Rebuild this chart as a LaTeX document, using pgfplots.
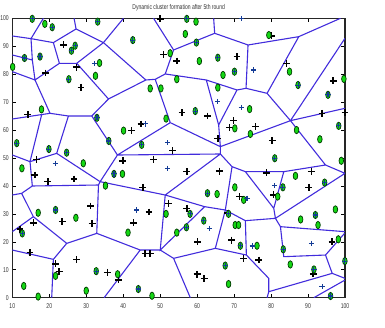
\documentclass[border=0pt]{standalone}
\usepackage{pgfplots}
\pgfplotsset{compat=1.18}
\usepackage{fontspec}
\setmainfont{Liberation Sans}
\newfontfamily\narrow[FakeStretch=0.72]{Liberation Sans}
\definecolor{vor}{RGB}{66,44,220}
\definecolor{gfill}{RGB}{20,215,20}
\definecolor{gdraw}{RGB}{0,60,0}
\definecolor{bplus}{RGB}{20,60,150}
\pgfdeclareplotmark{vell}{\pgfpathellipse{\pgfpointorigin}{\pgfqpoint{2.3pt}{0pt}}{\pgfqpoint{0pt}{3.7pt}}\pgfusepathqfillstroke}
\begin{document}
\begin{tikzpicture}
\useasboundingbox (-12.3pt,-30.3pt) rectangle (372.7pt,297.7pt);
\begin{axis}[
  at={(0,0)}, anchor=south west,
  scale only axis, width=332.7pt, height=279.4pt,
  xmin=10, xmax=100, ymin=0, ymax=100,
  xtick={10,20,...,100}, ytick={0,10,...,100},
  tick align=inside, major tick length=3.5pt,
  tick style={black, line width=0.6pt},
  axis line style={black!85, line width=1.3pt},
  /pgf/number format/assume math mode=true,
  ticklabel style={font=\narrow\fontsize{7}{8}\selectfont, text=black!80},
  xticklabel style={yshift=-2pt},
  title={Dynamic cluster formation after 5th round},
  every axis title/.style={font=\narrow\fontsize{7}{8}\selectfont, text=black!80, at={(0.5,1)}, anchor=center, yshift=11pt},
  clip mode=individual,
]
\addplot[vor, line width=1.1pt, unbounded coords=jump] coordinates {
(10,93.67) (15.06,92.72) (nan,nan)
(18.40,100) (15.06,92.72) (21.11,91.29) (27.25,96.18) (26.71,100) (nan,nan)
(27.25,96.18) (34.66,91.29) (40.08,100) (nan,nan)
(34.66,91.29) (46.13,77.92) (nan,nan)
(21.11,91.29) (22.74,83.89) (27.43,83.89) (34.66,91.29) (nan,nan)
(27.43,83.89) (36.02,71.12) (46.13,77.92) (nan,nan)
(36.02,71.12) (31.50,65.03) (nan,nan)
(15.06,92.72) (15.42,85.08) (16.14,77.92) (20.21,65.99) (10,63.96) (nan,nan)
(10,86.87) (15.42,85.08) (nan,nan)
(10,80.91) (16.14,77.92) (22.74,83.89) (nan,nan)
(20.21,65.99) (25.18,65.03) (31.50,65.03) (38.45,51.07) (66.28,51.43) (nan,nan)
(25.18,65.03) (22.01,51.67) (33.76,41.53) (38.45,51.07) (nan,nan)
(17.95,65.51) (14.79,48.69) (22.01,51.67) (nan,nan)
(10,51.07) (14.79,48.69) (15.42,39.98) (33.31,40.33) (33.76,41.53) (nan,nan)
(15.42,39.98) (12.53,37.35) (10,36.75) (nan,nan)
(12.53,37.35) (15.69,29.0) (10,23.63) (nan,nan)
(15.69,29.0) (24.72,19.45) (32.85,23.03) (33.31,40.33) (nan,nan)
(32.85,23.03) (44.6,17.06) (50.02,17.06) (nan,nan)
(44.6,17.06) (34.84,0) (nan,nan)
(24.72,19.45) (21.11,13.72) (10,17.06) (nan,nan)
(21.11,13.72) (20.66,0) (nan,nan)
(33.76,41.53) (51.37,36.75) (66.28,51.43) (nan,nan)
(51.37,36.75) (50.02,17.06) (62.03,32.58) (51.37,36.75) (nan,nan)
(62.03,32.58) (67.63,31.38) (69.44,46.9) (66.28,51.43) (nan,nan)
(67.63,31.38) (64.92,17.66) (nan,nan)
(67.63,31.38) (73.05,27.57) (81.18,28.4) (80.73,31.98) (73.05,45.11) (nan,nan)
(80.73,31.98) (83.44,45.11) (nan,nan)
(81.18,28.4) (82.54,25.42) (100,23.63) (nan,nan)
(82.54,25.42) (83.44,14.68) (94.73,15.27) (99.88,23.03) (nan,nan)
(94.73,15.27) (96.54,8.71) (100,6.92) (nan,nan)
(96.54,8.71) (79.38,2.15) (78.93,0) (nan,nan)
(73.32,15.27) (79.38,6.92) (79.38,2.15) (nan,nan)
(73.05,27.57) (73.32,15.27) (64.92,17.66) (53.63,14.08) (50.02,17.06) (nan,nan)
(53.63,14.08) (58.15,0) (nan,nan)
(100,44.51) (94.73,47.49) (83.44,45.11) (73.05,45.11) (69.44,46.9) (nan,nan)
(100,44.51) (81.18,28.4) (nan,nan)
(100,6.32) (91.57,0) (nan,nan)
(64.47,100) (64.74,94.63) (53.63,88.66) (48.21,100) (nan,nan)
(53.63,88.66) (51.37,80.07) (48.66,78.16) (46.13,77.92) (nan,nan)
(48.66,78.16) (52.73,62.65) (38.45,51.07) (nan,nan)
(51.37,80.07) (62.48,77.92) (70.79,74.34) (65.82,61.81) (62.48,77.92) (nan,nan)
(70.79,74.34) (73.23,74.94) (73.77,90.45) (64.74,94.63) (nan,nan)
(73.77,90.45) (87.5,93.43) (98.79,100) (nan,nan)
(73.23,74.94) (78.92,73.15) (87.5,93.43) (nan,nan)
(78.92,73.15) (85.25,63.36) (100,92.84) (nan,nan)
(85.25,63.36) (100,67.78) (nan,nan)
(85.25,63.36) (94.73,47.49) (nan,nan)
(85.25,63.36) (66.28,54.06) (52.73,62.65) (nan,nan)
(65.82,61.81) (66.28,54.06) (66.28,51.43) (nan,nan)
};
\addplot[only marks, mark=+, mark size=3.4pt, mark options={black, line width=1.5pt}] coordinates {
(23.9,90.5) (19.0,80.4) (27.3,82.5) (28.6,75.3) (50.0,99.8) (50.9,87.1) (54.5,84.7) (70.8,86.3) (80.1,93.7) (84.2,83.9) (96.8,77.6) (14.2,65.6) (55.9,66.2) (62.8,65.0) (42.2,59.8) (44.8,62.2) (69.9,63.4) (68.8,60.9) (75.8,61.2) (93.8,66.0) (100.0,66.2) (53.4,52.6) (65.6,57.0) (80.3,56.2) (16.6,49.5) (16.1,43.9) (19.6,41.5) (26.7,42.5) (39.9,49.0) (48.2,49.5) (57.2,45.1) (66.0,45.3) (78.7,44.7) (90.9,45.1) (90.2,39.5) (45.3,39.5) (71.5,36.2) (80.7,36.8) (52.3,33.8) (57.2,32.0) (47.0,30.7) (42.8,26.8) (31.2,32.8) (31.6,26.6) (23.5,27.2) (12.1,24.5) (15.7,26.8) (14.8,16.1) (21.7,12.1) (22.7,9.3) (27.4,13.7) (35.7,9.1) (38.7,6.3) (45.9,15.9) (47.3,15.9) (60.1,20.0) (69.3,20.6) (72.6,14.1) (76.7,13.5) (96.5,20.0) (91.4,8.5) (60.0,8.4) (61.9,6.9) (68.3,30.3)
};
\addplot[only marks, mark=vell, mark options={fill=gfill, draw=gdraw, line width=0.7pt}] coordinates {
(18.8,98.0) (10.1,82.6) (33.6,84.0) (32.5,79.4) (17.9,67.4) (59.7,98.8) (56.8,94.4) (52.7,87.5) (47.3,74.9) (50.2,74.9) (54.5,78.2) (60.6,84.7) (67.0,79.7) (65.6,75.2) (79.4,94.0) (85.0,80.9) (99.7,78.3) (51.6,64.1) (40.1,59.8) (74.2,67.5) (70.2,60.6) (74.4,58.6) (86.9,60.0) (93.2,56.7) (99.0,49.0) (29.2,48.1) (12.6,46.3) (39.8,44.3) (35.2,40.1) (86.6,43.6) (65.4,37.1) (70.2,39.5) (72.6,35.0) (81.8,36.2) (97.4,31.6) (17.0,30.4) (27.2,28.6) (51.6,30.0) (41.3,23.3) (54.5,23.3) (70.3,26.0) (71.2,26.0) (88.0,28.0) (92.7,26.0) (98.2,20.9) (76.2,18.6) (85.2,11.9) (68.5,4.9) (21.7,7.8) (38.5,8.4) (13.1,4.2) (17.0,0.4) (30.0,2.5) (47.8,0.7)
(15.4,99.8) (20.8,96.8) (33.1,98.8) (27.0,90.2) (26.0,88.4) (13.3,85.8) (17.5,86.3) (25.3,78.2) (42.6,92.2) (57.2,99.8) (59.8,91.3) (65.6,85.9) (70.1,80.9) (87.3,76.1) (95.4,72.6) (59.5,66.8) (32.9,64.4) (36.1,56.1) (11.2,55.3) (19.9,53.2) (24.7,51.9) (37.5,44.3) (98.3,61.5) (81.0,49.9) (94.5,41.2) (83.2,39.5) (62.8,37.4) (21.7,31.4) (12.7,23.0) (58.1,30.0) (57.1,25.2) (61.8,27.6) (68.5,30.0) (71.7,18.6) (92.0,29.6) (83.3,17.3) (99.97,13.1) (67.6,11.5) (91.6,10.1) (96.1,0.6) (44.1,3.1) (32.7,9.5) (45.0,54.7)
};
\addplot[only marks, mark=+, mark size=2.6pt, mark options={bplus, line width=1.1pt}] coordinates {
(15.4,99.8) (20.8,96.8) (33.1,98.8) (27.0,90.2) (26.0,88.4) (13.3,85.8) (17.5,86.3) (25.3,78.2) (42.6,92.2) (57.2,99.8) (59.8,91.3) (65.6,85.9) (70.1,80.9) (87.3,76.1) (95.4,72.6) (59.5,66.8) (32.9,64.4) (36.1,56.1) (11.2,55.3) (19.9,53.2) (24.7,51.9) (37.5,44.3) (98.3,61.5) (81.0,49.9) (94.5,41.2) (83.2,39.5) (62.8,37.4) (21.7,31.4) (12.7,23.0) (58.1,30.0) (57.1,25.2) (61.8,27.6) (68.5,30.0) (71.7,18.6) (92.0,29.6) (83.3,17.3) (99.97,13.1) (67.6,11.5) (91.6,10.1) (96.1,0.6) (44.1,3.1) (32.7,9.5) (45.0,54.7)
(32.2,83.7) (46.1,62.2) (52.0,55.5) (52.0,46.3) (21.6,48.1) (65.6,70.2) (75.3,81.5) (71.9,68.1) (81.0,40.1) (73.5,35.6) (43.7,31.4) (63.3,24.8) (74.9,18.5) (90.9,19.5) (93.8,3.9) (71.9,99.8)
};
\end{axis}
\end{tikzpicture}
\end{document}
